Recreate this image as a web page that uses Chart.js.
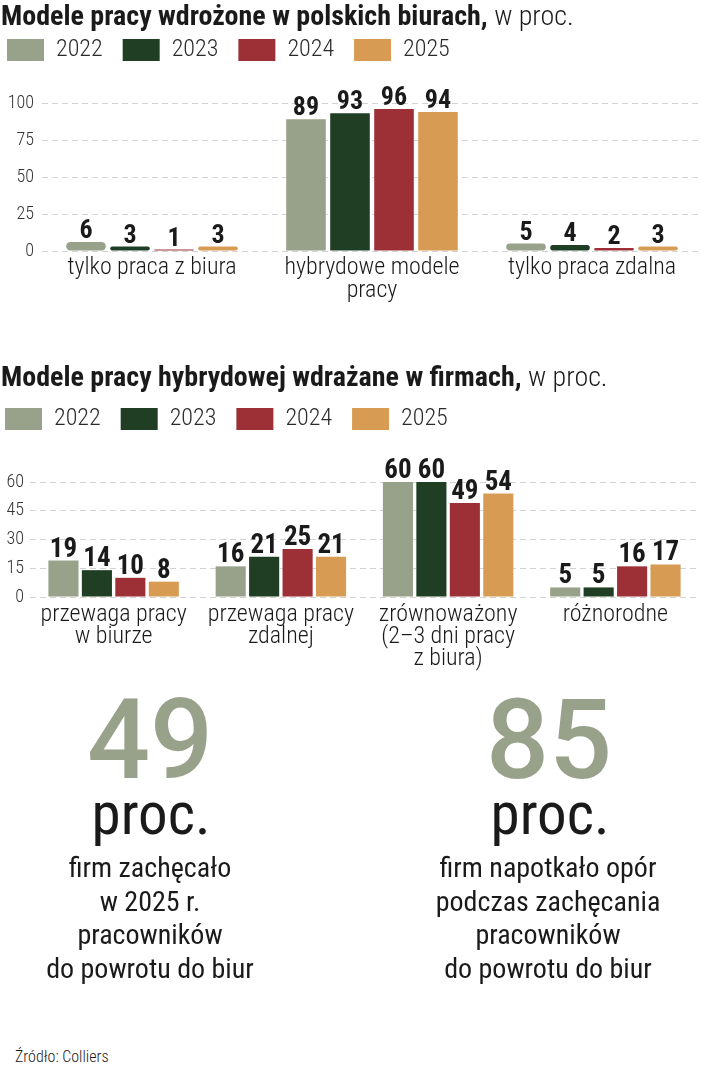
<!DOCTYPE html>
<html lang="pl">
<head>
<meta charset="utf-8">
<script src="https://cdn.jsdelivr.net/npm/chart.js@4.4.1/dist/chart.umd.min.js"></script>
<style>
  body {
    margin: 0;
    width: 703px;
    height: 1080px;
    position: relative;
    overflow: hidden;
    background: #fff;
    color: #1a1a1a;
    font-family: "Roboto Condensed", sans-serif;
  }
  .title {
    position: absolute;
    left: 1px;
    font-size: 28px;
    line-height: 28px;
    font-weight: 700;
    white-space: nowrap;
    z-index: 2;
  }
  .title span { font-weight: 300; }
  .chartbox { position: absolute; left: 0; width: 703px; }
  .stat { position: absolute; width: 360px; text-align: center; }
  .big { font-family: Roboto, sans-serif; font-weight: 500; font-size: 111px; line-height: 111px; color: #98a28a; }
  .proc { font-size: 59px; line-height: 59px; }
  .desc { font-size: 28px; line-height: 33.5px; }
  .source { position: absolute; left: 15px; top: 1047px; font-size: 16px; font-weight: 300; line-height: 20px; }
</style>
</head>
<body>

<div class="title" style="top:2px">Modele pracy wdrożone w polskich biurach, <span>w proc.</span></div>
<div class="chartbox" style="top:18px;height:289px"><canvas id="officeModels"></canvas></div>

<div class="title" style="top:363px">Modele pracy hybrydowej wdrażane w firmach, <span>w proc.</span></div>
<div class="chartbox" style="top:387px;height:290px"><canvas id="hybridModels"></canvas></div>

<div class="stat big" style="left:-30px;top:685px">49</div>
<div class="stat proc" style="left:-29px;top:784px">proc.</div>
<div class="stat desc" style="left:-30px;top:851px">firm zachęcało<br>w 2025 r.<br>pracowników<br>do powrotu do biur</div>

<div class="stat big" style="left:369px;top:685px">85</div>
<div class="stat proc" style="left:370px;top:784px">proc.</div>
<div class="stat desc" style="left:368px;top:851px">firm napotkało opór<br>podczas zachęcania<br>pracowników<br>do powrotu do biur</div>

<div class="source">Źródło: Colliers</div>

<script>
// data
const years = ["2022", "2023", "2024", "2025"];

const officeCategories = [
  "tylko praca z biura",
  ["hybrydowe modele", "pracy"],
  "tylko praca zdalna",
];
const office2022 = [6, 89, 5];
const office2023 = [3, 93, 4];
const office2024 = [1, 96, 2];
const office2025 = [3, 94, 3];
const officeTicks = [0, 25, 50, 75, 100];

const hybridCategories = [
  ["przewaga pracy", "w biurze"],
  ["przewaga pracy", "zdalnej"],
  ["zrównoważony", "(2–3 dni pracy", "z biura)"],
  "różnorodne",
];
const hybrid2022 = [19, 16, 60, 5];
const hybrid2023 = [14, 21, 60, 5];
const hybrid2024 = [10, 25, 49, 16];
const hybrid2025 = [8, 21, 54, 17];
const hybridTicks = [0, 15, 30, 45, 60];

function chartColors() {
  return {
    sage: "rgb(152, 162, 138)",
    darkGreen: "rgb(31, 62, 36)",
    red: "rgb(157, 48, 55)",
    orange: "rgb(215, 155, 84)",
    text: "#1a1a1a",
    tick: "#333333",
    grid: "#d2d2d2",
  };
}

const FONT = "'Roboto Condensed'";

// value labels above each bar
const barValueLabels = {
  id: "barValueLabels",
  afterDatasetsDraw: (chart, args, opts) => {
    const ctx = chart.ctx;
    ctx.save();
    ctx.font = "700 " + opts.size + "px " + FONT;
    ctx.fillStyle = chartColors().text;
    ctx.textAlign = "center";
    ctx.textBaseline = "alphabetic";
    chart.data.datasets.forEach((ds, i) => {
      chart.getDatasetMeta(i).data.forEach((bar, j) => {
        ctx.fillText(ds.data[j], bar.x, bar.y - 4);
      });
    });
    ctx.restore();
  },
};

// extra room between legend and plot
const legendSpacer = {
  id: "legendSpacer",
  beforeInit: (chart, args, opts) => {
    const origFit = chart.legend.fit;
    chart.legend.fit = function fit() {
      origFit.bind(chart.legend)();
      this.height += opts.extra;
    };
  },
};

function makeDatasets(series, radius) {
  const colors = chartColors();
  const fills = [colors.sage, colors.darkGreen, colors.red, colors.orange];
  return series.map((values, i) => ({
    label: years[i],
    data: values,
    backgroundColor: fills[i],
    borderWidth: 0,
    borderSkipped: false,
    borderRadius: (c) => (radius && c.raw < 10 ? radius : 0),
    categoryPercentage: 0.8,
    barPercentage: 0.9,
  }));
}

function baseBarConfig(s) {
  const colors = chartColors();
  return {
    type: "bar",
    options: {
      animation: false,
      responsive: true,
      maintainAspectRatio: false,
      devicePixelRatio: 1,
      layout: {
        padding: { left: s.padLeft, right: s.padRight, top: 0, bottom: 0 },
      },
      plugins: {
        legend: {
          display: true,
          position: "top",
          align: "start",
          labels: {
            boxWidth: 37,
            boxHeight: 22,
            padding: 20,
            color: "#2a2a2a",
            font: { family: FONT, size: 24, weight: "300" },
          },
        },
        tooltip: { enabled: false },
        barValueLabels: { size: s.valueSize },
        legendSpacer: { extra: s.legendExtra },
      },
      scales: {
        x: {
          grid: { display: false, drawTicks: false },
          border: { display: false },
          ticks: {
            color: colors.text,
            padding: s.labelPad,
            font: { family: FONT, size: 24, weight: "300", lineHeight: s.labelLine },
            maxRotation: 0,
            autoSkip: false,
          },
        },
        y: {
          min: 0,
          max: s.ticks[s.ticks.length - 1],
          afterBuildTicks: (axis) => {
            axis.ticks = s.ticks.map((v) => ({ value: v }));
          },
          afterFit: (axis) => {
            axis.width = s.axisWidth;
          },
          grid: { color: colors.grid, lineWidth: 1, drawTicks: false, borderDash: [6, 4] },
          border: { display: false, dash: [6, 4] },
          ticks: {
            color: colors.tick,
            padding: s.tickPad,
            font: { family: FONT, size: 18, weight: "300" },
          },
        },
      },
    },
    plugins: [barValueLabels, legendSpacer],
  };
}

function createChart(el, config) {
  return new Chart(el, config);
}

// Modele pracy wdrożone w polskich biurach
const officeConfig = baseBarConfig({
  padLeft: -13, padRight: 1, axisWidth: 55, tickPad: 8, labelPad: 5,
  legendExtra: 31, valueSize: 26, labelLine: 23 / 24, ticks: officeTicks,
});
officeConfig.data = {
  labels: officeCategories,
  datasets: makeDatasets([office2022, office2023, office2024, office2025], 5),
};
createChart(document.getElementById("officeModels"), officeConfig);

// Modele pracy hybrydowej wdrażane w firmach
const hybridConfig = baseBarConfig({
  padLeft: -15, padRight: 4, axisWidth: 45, tickPad: 6, labelPad: 7,
  legendExtra: 41, valueSize: 27, labelLine: 22 / 24, ticks: hybridTicks,
});
hybridConfig.data = {
  labels: hybridCategories,
  datasets: makeDatasets([hybrid2022, hybrid2023, hybrid2024, hybrid2025], 0),
};
createChart(document.getElementById("hybridModels"), hybridConfig);
</script>
</body>
</html>
